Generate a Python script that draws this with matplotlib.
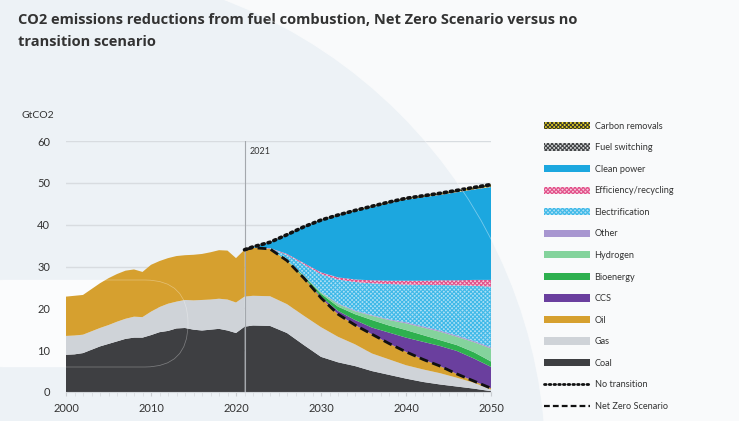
"""CO2 emissions reductions from fuel combustion: Net Zero vs no transition."""

import matplotlib
matplotlib.use("Agg")
import matplotlib.pyplot as plt
import numpy as np
from matplotlib.lines import Line2D
from matplotlib.patches import Circle, FancyBboxPatch, Patch
from matplotlib.transforms import IdentityTransform

# --- Historical emissions by fuel (GtCO2) ---
hist_years = list(range(2000, 2022))
hist_coal = [8.9, 9.0, 9.3, 10.1, 10.9, 11.5, 12.1, 12.7, 13.0, 13.0, 13.6,
             14.3, 14.6, 15.2, 15.3, 14.9, 14.7, 14.9, 15.1, 14.7, 14.1, 15.6]
hist_gas = [4.5, 4.5, 4.4, 4.4, 4.4, 4.5, 4.7, 4.8, 5.0, 4.9, 5.6,
            6.0, 6.5, 6.4, 6.7, 7.0, 7.3, 7.2, 7.2, 7.4, 7.3, 7.2]
hist_oil = [9.4, 9.5, 9.5, 10.1, 10.7, 11.2, 11.4, 11.5, 11.3, 10.8, 11.2,
            11.0, 10.9, 10.9, 10.7, 10.9, 11.0, 11.3, 11.6, 11.7, 10.6, 11.2]

# --- Net Zero pathway and reduction levers (GtCO2) ---
proj_years = [2021, 2022, 2024, 2026, 2028, 2030, 2032, 2034,
              2036, 2038, 2040, 2042, 2044, 2046, 2048, 2050]
nz_coal = [15.6, 15.9, 15.8, 14.1, 11.2, 8.4, 7.1, 6.2, 5.0, 4.1, 3.2, 2.4, 1.8, 1.3, 0.8, 0.2]
nz_gas = [7.2, 7.1, 7.1, 6.9, 7.0, 7.1, 6.1, 5.2, 4.2, 3.7, 3.2, 3.0, 2.7, 2.1, 1.4, 0.4]
nz_oil = [11.2, 11.5, 11.3, 10.4, 9.0, 7.0, 5.4, 4.6, 4.6, 3.8, 3.2, 2.4, 1.7, 0.9, 0.4, 0.3]
ccs = [0, 0, 0, 0, 0.1, 0.3, 0.8, 1.2, 1.6, 2.6, 3.4, 4.2, 4.8, 5.5, 5.4, 5.1]
bioenergy = [0, 0, 0, 0.1, 0.4, 0.7, 1.0, 1.4, 1.8, 1.7, 1.8, 1.6, 1.4, 1.4, 1.5, 1.3]
hydrogen = [0, 0, 0, 0, 0.1, 0.3, 0.6, 0.7, 1.0, 1.3, 1.6, 1.8, 2.0, 2.0, 2.4, 3.1]
other = [0, 0, 0, 0, 0.1, 0.1, 0.2, 0.2, 0.2, 0.2, 0.3, 0.3, 0.3, 0.3, 0.3, 0.3]
electrification = [0, 0, 0.1, 1.3, 2.6, 4.3, 5.7, 6.8, 7.6, 8.4, 9.0, 9.9, 10.9, 12.0, 13.2, 14.5]
efficiency = [0, 0, 0.1, 0.2, 0.3, 0.4, 0.5, 0.6, 0.7, 0.8, 0.9, 1.0, 1.1, 1.2, 1.4, 1.6]
clean_power = [0, 0.2, 1.35, 4.5, 8.6, 12.35, 14.7, 16.3, 17.45, 18.5, 19.4,
               19.95, 20.4, 21.05, 21.6, 22.2]
fuel_switching = [0, 0, 0.05, 0.1, 0.1, 0.1, 0.1, 0.1, 0.1, 0.1, 0.1, 0.1, 0.1, 0.1, 0.1, 0.1]
carbon_removals = [0, 0, 0, 0, 0, 0.05, 0.1, 0.1, 0.15, 0.2, 0.2, 0.25, 0.3, 0.35, 0.4, 0.5]

y_ticks = [0, 10, 20, 30, 40, 50, 60]
x_ticks = [2000, 2010, 2020, 2030, 2040, 2050]

COAL, GAS, OIL = "#3e3f42", "#cfd3d8", "#d6a02f"
CCS_C, BIO_C, H2_C, OTHER_C = "#6a3f9e", "#2eb04f", "#84d39c", "#a896d0"
CLEAN_C = "#1ca7df"

# (label, data, face, hatch colour, hatch)
layers = [
    ("Coal", nz_coal, COAL, None, None),
    ("Gas", nz_gas, GAS, None, None),
    ("Oil", nz_oil, OIL, None, None),
    ("CCS", ccs, CCS_C, None, None),
    ("Bioenergy", bioenergy, BIO_C, None, None),
    ("Hydrogen", hydrogen, H2_C, None, None),
    ("Other", other, OTHER_C, None, None),
    ("Electrification", electrification, "#acdff5", "#3fb9e8", "xxxxxxxx"),
    ("Efficiency/recycling", efficiency, "#f5c9da", "#e2508a", "xxxxxxxx"),
    ("Clean power", clean_power, CLEAN_C, None, None),
    ("Fuel switching", fuel_switching, "#d9dadc", "#444648", "xxxxxxxx"),
    ("Carbon removals", carbon_removals, "#ecd622", "#3a3a2a", "xxxxxxxx"),
]

plt.rcParams["font.family"] = ["Lato", "DejaVu Sans"]
plt.rcParams["hatch.linewidth"] = 0.8

W, H = 739, 421
fig = plt.figure(figsize=(W / 100, H / 100), dpi=100, facecolor="#f9fafb")

# decorative background shapes (pixel coordinates)
px = IdentityTransform()
fig.patches.append(Circle((46, H - 467), 500, transform=px,
                          facecolor="#edf2f6", edgecolor="none", zorder=-10))
fig.patches.append(FancyBboxPatch((-40, H - 367), 228, 87,
                                  boxstyle="round,pad=0,rounding_size=43", transform=px,
                                  facecolor="#fbfcfd", edgecolor="none", zorder=-9))
# faint outlines of the same shapes over the chart
fig.patches.append(FancyBboxPatch((-40, H - 367), 228, 87,
                                  boxstyle="round,pad=0,rounding_size=43", transform=px,
                                  facecolor="none", edgecolor="white", lw=0.5,
                                  alpha=0.35, zorder=5))
fig.patches.append(Circle((46, H - 467), 500, transform=px, facecolor="none",
                          edgecolor="white", lw=0.6, alpha=0.4, zorder=5))

ax = fig.add_axes([66 / W, 1 - 392 / H, (491 - 66) / W, (392 - 141) / H])
ax.set_facecolor("none")
ax.set_zorder(1)

# history
ax.stackplot(hist_years, hist_coal, hist_gas, hist_oil,
             colors=[COAL, GAS, OIL], linewidth=0, zorder=2)

# Net Zero stack plus levers up to the no-transition path
polys = ax.stackplot(proj_years, *[l[1] for l in layers],
                     colors=[l[2] for l in layers], linewidth=0, zorder=2)
for poly, (_, _, face, hcol, hatch) in zip(polys, layers):
    if hatch:
        poly.set_hatch(hatch)
        poly.set_edgecolor(hcol)
        poly.set_linewidth(0)

nz_total = np.sum([nz_coal, nz_gas, nz_oil], axis=0)
no_transition = np.sum([l[1] for l in layers], axis=0)
ax.plot(proj_years, no_transition, color="#111111", lw=2.6,
        linestyle=(0, (0.6, 1.1)), dash_capstyle="round", zorder=4)
ax.plot(proj_years, nz_total, color="#111111", lw=2.0,
        linestyle=(0, (3.2, 1.6)), zorder=4)

# 2021 marker
ax.axvline(2021, color="#a4a8ad", lw=0.8, zorder=3)
ax.text(2021.6, 57.6, "2021", fontsize=6.5, color="#333333", va="center", zorder=5)

ax.set_xlim(2000, 2050)
ax.set_ylim(0, 60)
ax.set_yticks(y_ticks)
ax.set_xticks(x_ticks)
ax.set_xticks(range(2000, 2051), minor=True)
ax.grid(axis="y", color="#d8dce0", lw=1.0, zorder=1)
for s in ["top", "right", "left"]:
    ax.spines[s].set_visible(False)
ax.spines["bottom"].set_color("#d3d7db")
ax.tick_params(axis="y", length=0, pad=11.5, labelsize=8, labelcolor="#333333")
ax.tick_params(axis="x", which="major", length=3, color="#c8ccd0", pad=5,
               labelsize=8, labelcolor="#333333")
ax.tick_params(axis="x", which="minor", length=3, color="#d8dce0")
ax.set_axisbelow(True)

fig.text(22 / W, 1 - 115 / H, "GtCO2", fontsize=7.5, color="#333333", va="center")

fig.text(18 / W, 1 - 13 / H,
         "CO2 emissions reductions from fuel combustion, Net Zero Scenario versus no\n"
         "transition scenario",
         fontsize=10.5, fontweight="bold", family=["Open Sans", "DejaVu Sans"],
         color="#333333", va="top", linespacing=1.75)

# legend
handles = []
for label, _, face, hcol, hatch in reversed(layers):
    if hatch:
        handles.append(Patch(facecolor=face, edgecolor=hcol, hatch=hatch, lw=0, label=label))
    else:
        handles.append(Patch(facecolor=face, edgecolor="none", label=label))
handles.append(Line2D([], [], color="#111111", lw=2.0, linestyle=(0, (0.6, 1.1)),
                      dash_capstyle="round", label="No transition"))
handles.append(Line2D([], [], color="#111111", lw=1.6, linestyle=(0, (2.6, 1.4)),
                      label="Net Zero Scenario"))

fig.legend(handles=handles, loc="upper left", bbox_to_anchor=(540 / W, 1 - 118 / H),
           frameon=False, fontsize=6.6, labelcolor="#333333", handlelength=5.0,
           handleheight=0.85, handletextpad=0.55, labelspacing=1.37, borderaxespad=0)

fig.savefig("out.png", dpi=100, facecolor=fig.get_facecolor())
